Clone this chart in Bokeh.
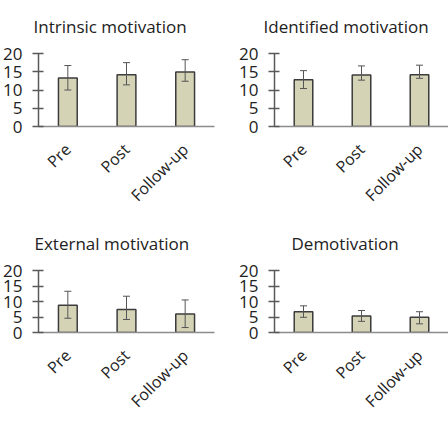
import math

from bokeh.embed import file_html
from bokeh.layouts import gridplot
from bokeh.models import ColumnDataSource, FactorRange, FixedTicker, Range1d, TeeHead, Whisker
from bokeh.plotting import figure
from bokeh.resources import INLINE

# Mean scores per time point, with the upper and lower ends of each error bar
categories = ["Pre", "Post", "Follow-up"]

intrinsic_mean = [13.3, 14.2, 14.9]
intrinsic_upper = [16.7, 17.5, 18.3]
intrinsic_lower = [10.0, 11.4, 12.4]

identified_mean = [12.8, 14.1, 14.2]
identified_upper = [15.3, 16.6, 16.8]
identified_lower = [10.4, 12.7, 13.2]

external_mean = [8.8, 7.4, 6.0]
external_upper = [13.3, 11.7, 10.5]
external_lower = [4.6, 4.2, 1.6]

demotivation_mean = [6.7, 5.3, 4.9]
demotivation_upper = [8.6, 7.1, 6.7]
demotivation_lower = [4.9, 3.6, 2.8]

y_ticks = [0, 5, 10, 15, 20]

FONT = "Open Sans"
BAR_FILL = "#d5d3b6"
BAR_LINE = "#3c3c3c"
ERR_COLOR = "#555555"
TEXT_COLOR = "#222222"


def panel(title, means, upper, lower, border_left, border_right, height, border_bottom, title_offset):
    p = figure(
        x_range=FactorRange(*categories),
        y_range=Range1d(0, 20),
        width=224,
        height=height,
        title=title,
        output_backend="svg",
        toolbar_location=None,
        min_border_left=border_left,
        min_border_right=border_right,
        min_border_top=53,
        min_border_bottom=border_bottom,
    )
    p.outline_line_color = None
    p.grid.visible = False

    # heading: left-aligned, nudged so it sits centred over the whole chart cell
    p.title.text_font = FONT
    p.title.text_font_size = "17px"
    p.title.text_font_style = "normal"
    p.title.text_color = TEXT_COLOR
    p.title.align = "left"
    p.title.vertical_align = "top"
    p.title.offset = title_offset
    p.title.standoff = 28

    src = ColumnDataSource(dict(cat=categories, mean=means, hi=upper, lo=lower))
    p.vbar(x="cat", top="mean", bottom=0, width=0.32, source=src,
           fill_color=BAR_FILL, line_color=BAR_LINE, line_width=1.5)

    err = Whisker(
        source=src, base="cat", upper="hi", lower="lo",
        line_color=ERR_COLOR, line_width=1, level="overlay",
        upper_head=TeeHead(size=7, line_color=ERR_COLOR, line_width=1),
        lower_head=TeeHead(size=7, line_color=ERR_COLOR, line_width=1),
    )
    p.add_layout(err)

    ya = p.yaxis[0]
    ya.ticker = FixedTicker(ticks=y_ticks)
    ya.major_tick_in = 5
    ya.major_tick_out = 6
    ya.minor_tick_in = 0
    ya.minor_tick_out = 0
    ya.axis_line_color = "#595959"
    ya.major_tick_line_color = "#595959"
    ya.axis_line_width = 1.5
    ya.major_tick_line_width = 1.5
    ya.major_label_text_font = FONT
    ya.major_label_text_font_size = "17px"
    ya.major_label_text_color = TEXT_COLOR
    ya.major_label_standoff = 10

    xa = p.xaxis[0]
    xa.major_tick_in = 0
    xa.major_tick_out = 0
    xa.axis_line_color = "#8c8c8c"
    xa.axis_line_width = 1.5
    xa.major_label_orientation = math.pi / 4
    xa.major_label_text_font = FONT
    xa.major_label_text_font_size = "16px"
    xa.major_label_text_color = TEXT_COLOR
    xa.major_label_standoff = 20
    return p


p1 = panel("Intrinsic motivation", intrinsic_mean, intrinsic_upper, intrinsic_lower, 37, 10, 217, 91, -5)
p2 = panel("Identified motivation", identified_mean, identified_upper, identified_lower, 50, 0, 217, 91, -11)
p3 = panel("External motivation", external_mean, external_upper, external_lower, 37, 10, 205, 79, -4)
p4 = panel("Demotivation", demotivation_mean, demotivation_upper, demotivation_lower, 50, 0, 205, 79, 17)

grid = gridplot([[p1, p2], [p3, p4]], toolbar_location=None)

open("out.html", "w").write(file_html(grid, INLINE))
